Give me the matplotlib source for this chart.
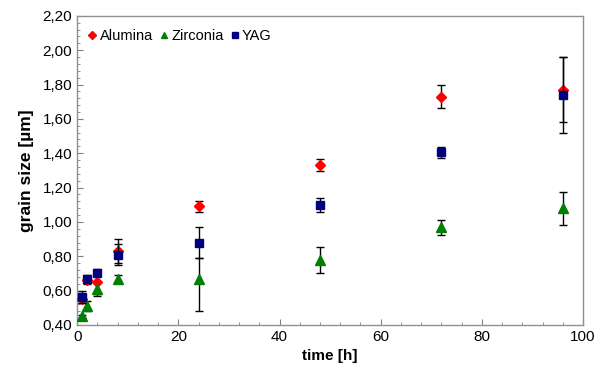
import numpy as np
import matplotlib
matplotlib.use("Agg")
import matplotlib.pyplot as plt
from matplotlib.ticker import MultipleLocator, FuncFormatter

# data
time_h = [1, 2, 4, 8, 24, 48, 72, 96]

alumina = [0.55, 0.66, 0.65, 0.83, 1.09, 1.33, 1.73, 1.77]
alumina_err = [0.02, 0.02, 0.07, 0.07, 0.03, 0.035, 0.065, 0.19]

zirconia = [0.45, 0.51, 0.61, 0.67, 0.67, 0.78, 0.97, 1.08]
zirconia_err_lo = [0.01, 0.03, 0.04, 0.02, 0.19, 0.076, 0.044, 0.097]
zirconia_err_hi = [0.01, 0.03, 0.04, 0.02, 0.12, 0.076, 0.044, 0.097]

yag = [0.565, 0.67, 0.705, 0.81, 0.88, 1.10, 1.405, 1.74]
yag_err = [0.035, 0.02, 0.02, 0.06, 0.09, 0.04, 0.032, 0.22]

plt.rcParams["font.family"] = ["Liberation Sans", "DejaVu Sans"]
plt.rcParams["font.size"] = 10

fig = plt.figure(figsize=(6.03, 3.77), dpi=100)
ax = fig.add_axes([0.128, 0.138, 0.839, 0.820])

err_kw = dict(ecolor="black", elinewidth=1.0, capsize=3.2, capthick=1.0, linestyle="none")

ax.errorbar(time_h, alumina, yerr=alumina_err, marker="D", markersize=5,
            color="#ff0000", mec="#ff0000", label="Alumina", zorder=3, **err_kw)
ax.errorbar(time_h, zirconia, yerr=[zirconia_err_lo, zirconia_err_hi], marker="^", markersize=6.5,
            color="#008000", mec="#008000", label="Zirconia", zorder=3, **err_kw)
ax.errorbar(time_h, yag, yerr=yag_err, marker="s", markersize=5.5,
            color="#000080", mec="#000080", label="YAG", zorder=4, **err_kw)

ax.set_xlim(0, 100)
ax.set_ylim(0.40, 2.20)
ax.xaxis.set_major_locator(MultipleLocator(20))
ax.xaxis.set_minor_locator(MultipleLocator(4))
ax.yaxis.set_major_locator(MultipleLocator(0.2))
ax.yaxis.set_minor_locator(MultipleLocator(0.04))
ax.yaxis.set_major_formatter(FuncFormatter(lambda v, p: f"{v:.2f}".replace(".", ",")))

ax.tick_params(which="both", direction="in", color="#808080", labelsize=11)
ax.tick_params(which="major", length=4)
ax.tick_params(which="minor", length=2.5)
for s in ax.spines.values():
    s.set_color("#909090")
    s.set_linewidth(1.0)

ax.set_xlabel("time [h]", fontweight="bold", fontsize=11)
ax.set_ylabel("grain size [µm]", fontweight="bold", fontsize=12.5, labelpad=6)

handles, labels = ax.get_legend_handles_labels()
handles = [h[0] for h in handles]
ax.legend(handles, labels, loc="upper left", ncol=3, frameon=False, fontsize=10.5,
          handletextpad=0.05, columnspacing=0.3, handlelength=0.9, markerscale=0.75,
          bbox_to_anchor=(0.0, 0.985), borderaxespad=0.2)

fig.savefig("out.png", dpi=100)
